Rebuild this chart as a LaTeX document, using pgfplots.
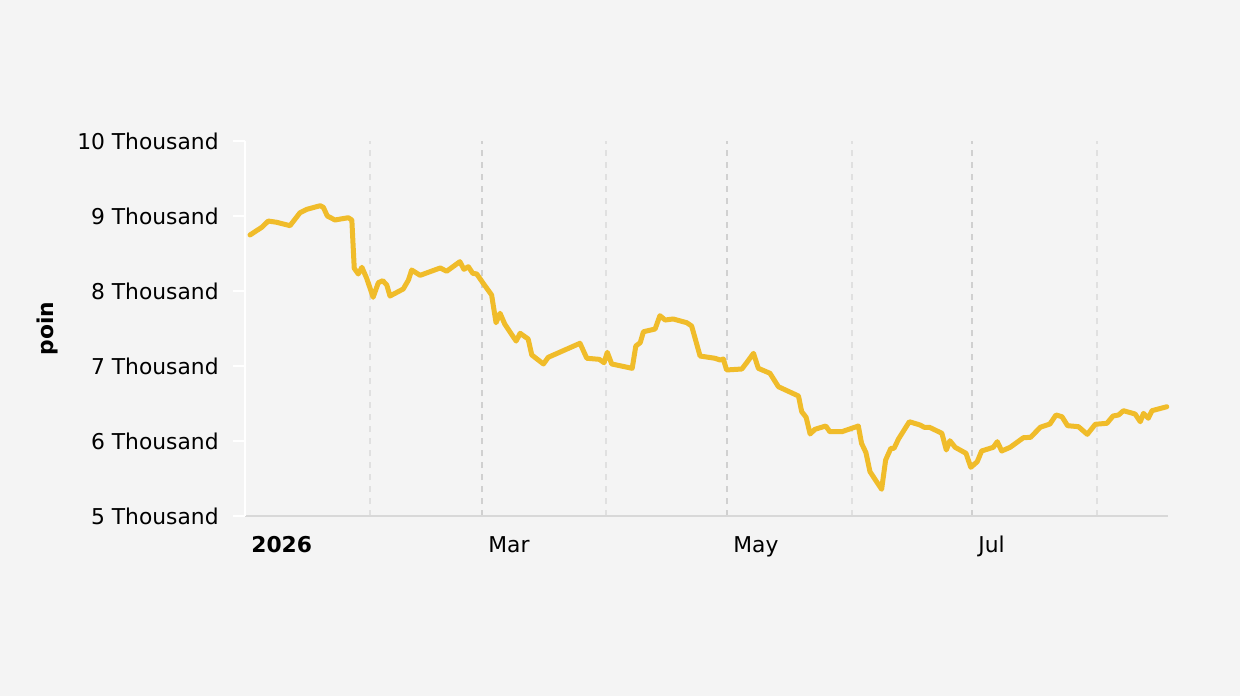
\documentclass[border=0pt]{standalone}
\usepackage{pgfplots}
\pgfplotsset{compat=1.18}
\usepackage{fontspec}
\setmainfont{DejaVu Sans}
\definecolor{bg}{HTML}{F4F4F4}
\definecolor{gold}{HTML}{F0BC2A}
\definecolor{gridmaj}{HTML}{D0D0D0}
\definecolor{gridmin}{HTML}{E0E0E0}
\definecolor{basegray}{HTML}{D8D8D8}
\begin{document}
\begin{tikzpicture}
\fill[bg] (-122.5pt,-90pt) rectangle (497.5pt,258pt);
\begin{axis}[
    at={(0,0)}, anchor=south west,
    scale only axis,
    width=461.5pt, height=187.5pt,
    xmin=0, xmax=229.8,
    ymin=5000, ymax=10000,
    axis lines*=left,
    font=\fontsize{10.9pt}{13pt}\selectfont,
    x axis line style={basegray, line width=1pt},
    y axis line style={white, line width=1pt},
    xtick={0,59,120,181},
    xticklabels={\textbf{2026},Mar,May,Jul},
    minor xtick={31,90,151,212},
    xtick style={draw=none},
    xticklabel style={anchor=north west, inner sep=0pt, xshift=3pt, yshift=-4pt},
    xmajorgrids, xminorgrids,
    major x grid style={gridmaj, line width=1pt, dash pattern=on 3pt off 3pt},
    minor x grid style={gridmin, line width=1pt, dash pattern=on 3pt off 3pt},
    ytick={5000,6000,7000,8000,9000,10000},
    scaled y ticks=false,
    yticklabels={5 Thousand,6 Thousand,7 Thousand,8 Thousand,9 Thousand,10 Thousand},
    ytick style={white, line width=1pt},
    tick align=outside,
    major tick length=6pt,
    yticklabel style={anchor=east, inner sep=0pt, xshift=-7pt},
    ylabel={\textbf{poin}},
    every axis y label/.style={at={(axis description cs:-0.2145,0.5)}, rotate=90, anchor=center},
    clip=false,
]
\addplot[gold, line width=2.5pt, line join=round, line cap=round] coordinates {
(1.25,8747) (4.16,8849) (5.80,8933) (7.89,8916) (11.2,8871) (13.7,9044)
(15.4,9089) (18.7,9137) (19.5,9116) (20.5,9000) (22.4,8947) (25.7,8977)
(26.6,8947) (27.2,8303) (28.2,8227) (29.1,8316) (30.3,8169) (31.9,7916)
(33.2,8111) (34.3,8137) (35.3,8080) (36.1,7933) (39.4,8027) (40.7,8147)
(41.5,8280) (43.6,8209) (48.6,8307) (50.2,8263) (53.5,8391) (54.5,8289)
(55.6,8324) (56.7,8236) (57.7,8227) (59.3,8103) (61.4,7947) (62.5,7577)
(63.5,7703) (64.7,7556) (67.5,7333) (68.5,7436) (70.5,7360) (71.4,7147)
(74.3,7027) (75.5,7116) (83.4,7303) (85.1,7103) (88.2,7089) (89.4,7044)
(90.2,7183) (91.3,7027) (96.4,6969) (97.3,7267) (98.4,7311) (99.2,7457)
(102.1,7493) (103.3,7671) (104.6,7613) (106.6,7627) (110.0,7577) (111.2,7533)
(113.3,7133) (117.0,7103) (118.3,7080) (119.1,7093) (119.9,6947) (123.7,6960)
(124.9,7044) (126.6,7169) (127.8,6969) (130.7,6903) (132.8,6724) (137.8,6600)
(138.6,6391) (139.7,6316) (140.7,6093) (141.9,6156) (144.6,6200) (145.6,6124)
(148.6,6124) (152.7,6200) (153.5,5969) (154.6,5844) (155.6,5591) (158.5,5356)
(159.5,5747) (160.8,5903) (161.6,5903) (162.7,6027) (165.4,6257) (168.1,6213)
(169.1,6183) (170.4,6183) (173.5,6103) (174.6,5880) (175.5,6004) (176.8,5916)
(179.5,5836) (180.7,5649) (182.3,5724) (183.4,5867) (186.3,5916) (187.3,5991)
(188.4,5867) (190.5,5916) (193.8,6044) (195.6,6049) (198.0,6183) (200.4,6227)
(201.9,6347) (203.4,6324) (204.8,6204) (207.5,6191) (209.7,6089) (211.7,6223)
(214.6,6236) (216.1,6333) (217.5,6347) (218.7,6404) (221.6,6360) (222.9,6257)
(223.7,6369) (224.9,6303) (225.8,6404) (229.5,6457)
};
\end{axis}
\pgfresetboundingbox
\path[use as bounding box] (-122.5pt,-90pt) rectangle (497.5pt,258pt);
\end{tikzpicture}
\end{document}
